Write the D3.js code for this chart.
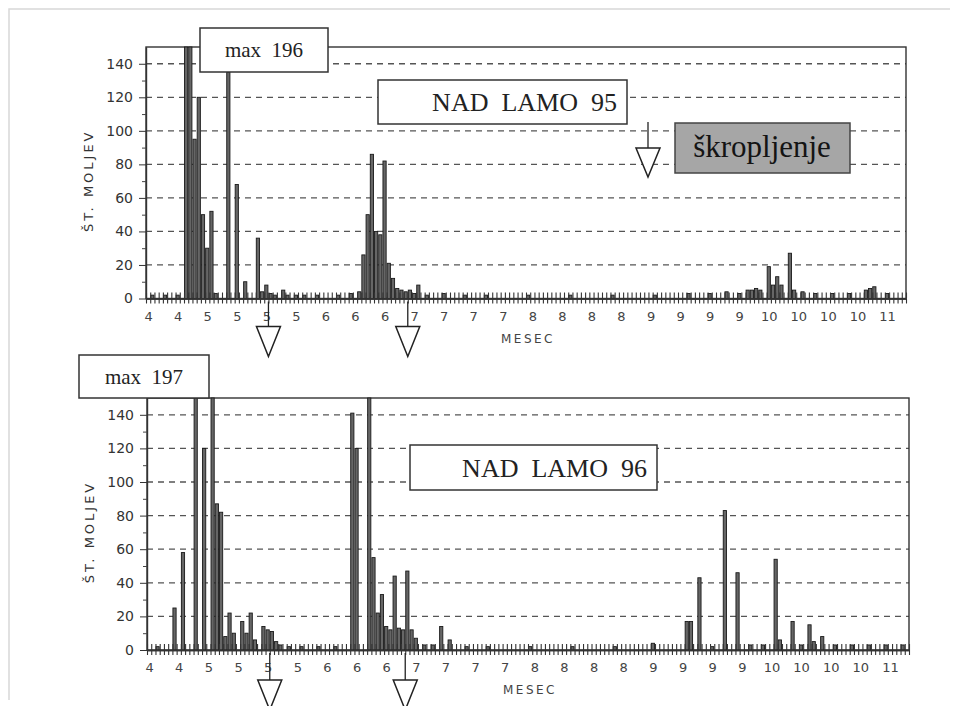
<!DOCTYPE html>
<html>
<head>
<meta charset="utf-8">
<script src="https://cdn.jsdelivr.net/npm/d3@7"></script>
<style>
  body { margin: 0; background: #fff; }
  svg { display: block; }
  .pre { white-space: pre; }
</style>
</head>
<body>
<div id="chart"></div>
<script>
const WIDTH = 960, HEIGHT = 706;
const N_DAYS = 180;   // one bar slot per day
const Y_MAX = 150;    // taller bars are cut at the frame

// weekly month labels under the axis
const monthLabels = ['4', '4', '5', '5', '5', '5', '6', '6', '6', '7', '7', '7', '7',
  '8', '8', '8', '8', '9', '9', '9', '9', '10', '10', '10', '10', '11'];
const yTicks = [0, 20, 40, 60, 80, 100, 120, 140];

// 1995 - day index / count of moths
const days95 = [1, 4, 7, 9, 10, 11, 12, 13, 14, 15, 16, 19, 21, 23, 26, 27, 28, 29, 30, 32, 33, 35, 37,
  40, 45, 48, 50, 51, 52, 53, 54, 55, 56, 57, 58, 59, 60, 61, 62, 63, 64, 66, 70, 75, 80, 90, 100,
  110, 120, 128, 133, 137, 140, 142, 143, 144, 145, 147, 148, 149, 150, 152, 153, 155, 158, 162,
  166, 170, 171, 172, 175];
const counts95 = [2, 2, 2, 196, 160, 95, 120, 50, 30, 52, 3, 135, 68, 10, 36, 4, 8, 3, 2, 5, 2, 2, 2,
  2, 2, 3, 4, 26, 50, 86, 40, 38, 82, 21, 12, 6, 5, 4, 5, 3, 8, 2, 3, 2, 2, 2, 2,
  2, 2, 3, 3, 4, 3, 5, 5, 6, 5, 19, 8, 13, 8, 27, 5, 4, 3, 3,
  3, 5, 6, 7, 3];

// 1996
const days96 = [2, 6, 8, 11, 13, 15, 16, 17, 18, 19, 20, 22, 23, 24, 25, 27, 28, 29, 30, 31, 33, 36,
  40, 44, 48, 49, 52, 53, 54, 55, 56, 57, 58, 59, 60, 61, 62, 63, 65, 67, 69, 71, 75, 80, 90, 100,
  110, 119, 127, 128, 130, 133, 136, 139, 142, 145, 148, 149, 152, 154, 156, 157, 159, 162, 166,
  170, 174, 178];
const counts96 = [2, 25, 58, 197, 120, 160, 87, 82, 8, 22, 10, 17, 10, 22, 6, 14, 12, 11, 5, 3, 2, 2,
  2, 2, 141, 120, 165, 55, 22, 33, 14, 12, 44, 13, 12, 47, 12, 7, 3, 3, 14, 6, 2, 2, 2, 2,
  2, 4, 17, 17, 43, 2, 83, 46, 3, 3, 54, 6, 17, 3, 15, 5, 8, 3, 3,
  3, 3, 3];

// spraying dates (day index)
const spray95 = [29, 62];
const spray96 = [29, 61];

const svg = d3.select('#chart')
  .append('svg')
  .attr('width', WIDTH)
  .attr('height', HEIGHT)
  .style('font-family', 'DejaVu Sans, sans-serif');

// faint edge of the scanned page
svg.append('path')
  .attr('d', 'M9,700 V9 H950')
  .attr('fill', 'none')
  .attr('stroke', '#d8d8d8')
  .attr('stroke-width', 1.5);

function drawPanel(p) {
  const x = d3.scaleLinear().domain([0, N_DAYS]).range([p.left, p.right]);
  const y = d3.scaleLinear().domain([0, Y_MAX]).range([p.base, p.top]);
  const g = svg.append('g');

  // dashed grid
  g.append('g')
    .selectAll('line')
    .data(yTicks.filter((d) => d > 0))
    .join('line')
    .attr('x1', p.left)
    .attr('x2', p.right)
    .attr('y1', (d) => y(d))
    .attr('y2', (d) => y(d))
    .attr('stroke', '#555')
    .attr('stroke-width', 1.3)
    .attr('stroke-dasharray', '6,5');

  // frame
  g.append('rect')
    .attr('x', p.left)
    .attr('y', p.top)
    .attr('width', p.right - p.left)
    .attr('height', p.base - p.top)
    .attr('fill', 'none')
    .attr('stroke', '#333')
    .attr('stroke-width', 1.4);

  // bars
  const data = p.days.map((d, i) => ({ day: d, count: p.counts[i] }));
  const bw = 3.2;
  g.append('g')
    .selectAll('rect')
    .data(data)
    .join('rect')
    .attr('x', (d) => x(d.day + 0.5) - bw / 2)
    .attr('y', (d) => y(Math.min(d.count, Y_MAX)))
    .attr('width', bw)
    .attr('height', (d) => y(0) - y(Math.min(d.count, Y_MAX)))
    .attr('fill', '#666')
    .attr('stroke', '#1a1a1a')
    .attr('stroke-width', 0.9);

  // daily tick fence along the base line
  const fenceDown = g.append('g')
    .attr('transform', `translate(0,${p.base})`)
    .call(d3.axisBottom(x).tickValues(d3.range(N_DAYS + 1)).tickSizeInner(5).tickSizeOuter(0).tickFormat(''));
  const fenceUp = g.append('g')
    .attr('transform', `translate(0,${p.base})`)
    .call(d3.axisBottom(x).tickValues(d3.range(N_DAYS + 1)).tickSizeInner(-6).tickSizeOuter(0).tickFormat(''));
  [fenceDown, fenceUp].forEach((a) => {
    a.selectAll('line').attr('stroke', '#333').attr('stroke-width', 1.1);
    a.select('.domain').attr('stroke', '#333').attr('stroke-width', 1.4);
  });

  // month labels
  g.append('g')
    .attr('transform', `translate(0,${p.base})`)
    .call(d3.axisBottom(x)
      .tickValues(monthLabels.map((m, i) => i * 7 + 0.5))
      .tickSize(0)
      .tickPadding(13)
      .tickFormat((d, i) => monthLabels[i]))
    .call((a) => a.select('.domain').remove())
    .selectAll('text')
    .attr('font-family', 'DejaVu Sans, sans-serif')
    .attr('font-size', 13)
    .attr('fill', '#444');

  // y axis
  const yAxis = g.append('g')
    .attr('transform', `translate(${p.left},0)`)
    .call(d3.axisLeft(y).tickValues(yTicks).tickSize(7).tickPadding(6).tickSizeOuter(0));
  yAxis.select('.domain').attr('stroke', '#333').attr('stroke-width', 1.4);
  yAxis.selectAll('line').attr('stroke', '#333');
  yAxis.selectAll('text')
    .attr('font-family', 'DejaVu Sans, sans-serif')
    .attr('font-size', 14)
    .attr('fill', '#333');
  g.append('g')
    .attr('transform', `translate(${p.left},0)`)
    .call(d3.axisLeft(y).tickValues(d3.range(10, Y_MAX, 20)).tickSize(4).tickFormat(''))
    .call((a) => a.select('.domain').remove())
    .selectAll('line').attr('stroke', '#444');

  // axis titles
  g.append('text')
    .attr('transform', `translate(${p.left - 53},${(p.top + p.base) / 2 + 8}) rotate(-90)`)
    .attr('text-anchor', 'middle')
    .attr('font-size', 13)
    .attr('letter-spacing', 3)
    .attr('fill', '#333')
    .text('ŠT. MOLJEV');
  g.append('text')
    .attr('x', x(N_DAYS / 2) + 2)
    .attr('y', p.base + 44)
    .attr('text-anchor', 'middle')
    .attr('font-size', 12)
    .attr('letter-spacing', 2.5)
    .attr('fill', '#444')
    .text('MESEC');

  // spraying arrows under the axis
  const arr = g.append('g')
    .selectAll('g')
    .data(p.spray)
    .join('g')
    .attr('transform', (d) => `translate(${x(d)},${p.base})`);
  arr.append('line')
    .attr('y1', 3)
    .attr('y2', p.arrowTop)
    .attr('stroke', '#222')
    .attr('stroke-width', 1.3);
  arr.append('path')
    .attr('d', `M-12,${p.arrowTop} H12 L0,${p.arrowTop + 30} Z`)
    .attr('fill', '#fff')
    .attr('stroke', '#222')
    .attr('stroke-width', 1.5);

  // "max" box
  g.append('rect')
    .attr('x', p.maxBox[0]).attr('y', p.maxBox[1])
    .attr('width', p.maxBox[2]).attr('height', p.maxBox[3])
    .attr('fill', '#fff').attr('stroke', '#333').attr('stroke-width', 1.5);
  g.append('text')
    .attr('class', 'pre')
    .attr('x', p.maxBox[0] + p.maxBox[2] / 2)
    .attr('y', p.maxBox[1] + p.maxBox[3] / 2 + 7)
    .attr('text-anchor', 'middle')
    .attr('font-family', 'Liberation Serif, serif')
    .attr('font-size', 21)
    .attr('fill', '#222')
    .text(p.maxLabel);

  // title box
  g.append('rect')
    .attr('x', p.titleBox[0]).attr('y', p.titleBox[1])
    .attr('width', p.titleBox[2]).attr('height', p.titleBox[3])
    .attr('fill', '#fff').attr('stroke', '#333').attr('stroke-width', 1.5);
  g.append('text')
    .attr('class', 'pre')
    .attr('x', p.titleBox[0] + p.titleBox[2] - 10)
    .attr('y', p.titleBox[1] + p.titleBox[3] / 2 + 9)
    .attr('text-anchor', 'end')
    .attr('font-family', 'Liberation Serif, serif')
    .attr('font-size', 26)
    .attr('fill', '#222')
    .text(p.title);

  return { x, y, g };
}

drawPanel({
  left: 146, right: 906, top: 47, base: 298.5,
  days: days95, counts: counts95, spray: spray95, arrowTop: 28,
  maxBox: [200, 28, 128, 44], maxLabel: 'max  196',
  titleBox: [378, 80, 249, 44], title: 'NAD  LAMO  95'
});

drawPanel({
  left: 147, right: 909, top: 398, base: 650,
  days: days96, counts: counts96, spray: spray96, arrowTop: 30,
  maxBox: [79, 355, 130, 43], maxLabel: 'max  197',
  titleBox: [410, 445, 247, 45], title: 'NAD  LAMO  96'
});

// legend: spraying
const leg = svg.append('g').attr('transform', 'translate(648,122)');
leg.append('line')
  .attr('y1', 0).attr('y2', 26)
  .attr('stroke', '#222').attr('stroke-width', 1.3);
leg.append('path')
  .attr('d', 'M-12,26 H12 L0,55 Z')
  .attr('fill', '#fff').attr('stroke', '#222').attr('stroke-width', 1.5);
svg.append('rect')
  .attr('x', 675).attr('y', 123).attr('width', 175).attr('height', 50)
  .attr('fill', '#a6a6a6').attr('stroke', '#444').attr('stroke-width', 1.5);
svg.append('text')
  .attr('x', 762).attr('y', 157)
  .attr('text-anchor', 'middle')
  .attr('font-family', 'Liberation Serif, serif')
  .attr('font-size', 31)
  .attr('fill', '#141414')
  .text('škropljenje');
</script>
</body>
</html>
